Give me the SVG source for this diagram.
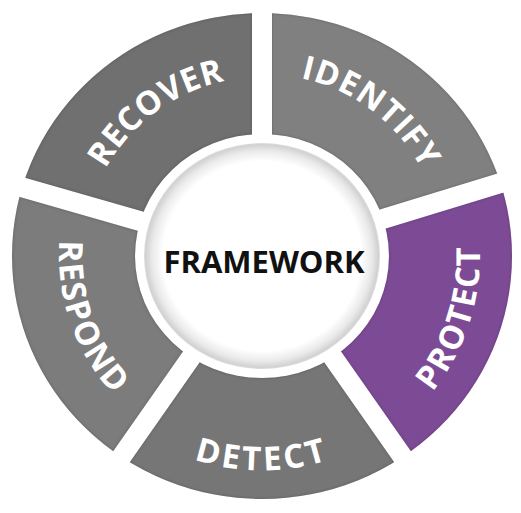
<svg xmlns="http://www.w3.org/2000/svg" width="521" height="513" viewBox="0 0 521 513">
  <style>
    .seg-label { font-family: "Open Sans", "Liberation Sans", sans-serif; font-weight: 700; font-size: 33px; fill: #ffffff; }
    .center-label { font-family: "Open Sans", "Liberation Sans", sans-serif; font-weight: 700; font-size: 31px; fill: #111111; }
  </style>
  <defs>
    <path id="ring" fill-rule="evenodd" d="M12,256 A250,243 0 1,0 512,256 A250,243 0 1,0 12,256 Z M135,256 A127,122 0 1,0 389,256 A127,122 0 1,0 135,256 Z"/>
    <clipPath id="clip-identify"><polygon points="272,242.5 272,-257.5 750.2,96.3"/></clipPath>
    <clipPath id="clip-protect"><polygon points="278.1,261.5 756.3,115.3 564.9,671.1"/></clipPath>
    <clipPath id="clip-detect"><polygon points="262,273.4 548.8,683 -24.8,683"/></clipPath>
    <clipPath id="clip-respond"><polygon points="245.8,261.8 -41,671.4 -234.8,123.9"/></clipPath>
    <clipPath id="clip-recover"><polygon points="252,242.7 -228.6,104.9 252,-257.3"/></clipPath>
    <filter id="bevel" x="-5%" y="-5%" width="110%" height="110%">
      <feGaussianBlur in="SourceAlpha" stdDeviation="1.6" result="blur"/>
      <feComposite in="SourceAlpha" in2="blur" operator="out" result="edge"/>
      <feFlood flood-color="#000000" flood-opacity="0.45"/>
      <feComposite in2="edge" operator="in" result="shade"/>
      <feMerge><feMergeNode in="SourceGraphic"/><feMergeNode in="shade"/></feMerge>
    </filter>
    <radialGradient id="disc-grad" cx="0.5" cy="0.5" r="0.5">
      <stop offset="0" stop-color="#ffffff"/>
      <stop offset="0.84" stop-color="#ffffff"/>
      <stop offset="0.93" stop-color="#eaeaea"/>
      <stop offset="0.985" stop-color="#d2d2d2"/>
      <stop offset="1" stop-color="#dedede"/>
    </radialGradient>
    <path id="tp-identify" d="M221.3,79.6 A179,179 0 0,1 442.75,246.5"/>
    <path id="tp-recover" d="M83.35,244.76 A179,179 0 0,1 304.09,82.01"/>
    <path id="tp-protect" d="M343.66,458.13 A218,218 0 0,0 446.87,140.48"/>
    <path id="tp-respond" d="M86.91,153.24 A203,203 0 0,0 191.24,446.27"/>
    <path id="tp-detect" d="M97.3,394.2 A216,216 0 0,0 426.7,394.2"/>
  </defs>

  <rect width="521" height="513" fill="#ffffff"/>

  <g id="identify">
    <g filter="url(#bevel)"><use href="#ring" clip-path="url(#clip-identify)" fill="#808080"/></g>
    <text class="seg-label" letter-spacing="1"><textPath href="#tp-identify" startOffset="50%" text-anchor="middle">IDENTIFY</textPath></text>
  </g>

  <g id="protect">
    <g filter="url(#bevel)"><use href="#ring" clip-path="url(#clip-protect)" fill="#7d4c95"/></g>
    <text class="seg-label" letter-spacing="1.5"><textPath href="#tp-protect" startOffset="50%" text-anchor="middle">PROTECT</textPath></text>
  </g>

  <g id="detect">
    <g filter="url(#bevel)"><use href="#ring" clip-path="url(#clip-detect)" fill="#767676"/></g>
    <text class="seg-label" letter-spacing="3"><textPath href="#tp-detect" startOffset="50%" text-anchor="middle">DETECT</textPath></text>
  </g>

  <g id="respond">
    <g filter="url(#bevel)"><use href="#ring" clip-path="url(#clip-respond)" fill="#7c7c7c"/></g>
    <text class="seg-label" letter-spacing="1.9"><textPath href="#tp-respond" startOffset="50%" text-anchor="middle">RESPOND</textPath></text>
  </g>

  <g id="recover">
    <g filter="url(#bevel)"><use href="#ring" clip-path="url(#clip-recover)" fill="#707070"/></g>
    <text class="seg-label" letter-spacing="0.5"><textPath href="#tp-recover" startOffset="50%" text-anchor="middle">RECOVER</textPath></text>
  </g>

  <g id="framework">
    <ellipse cx="262" cy="256" rx="118" ry="113" fill="url(#disc-grad)"/>
    <text class="center-label" x="264" y="273" text-anchor="middle">FRAMEWORK</text>
  </g>

  <g id="connectors"/>
</svg>
